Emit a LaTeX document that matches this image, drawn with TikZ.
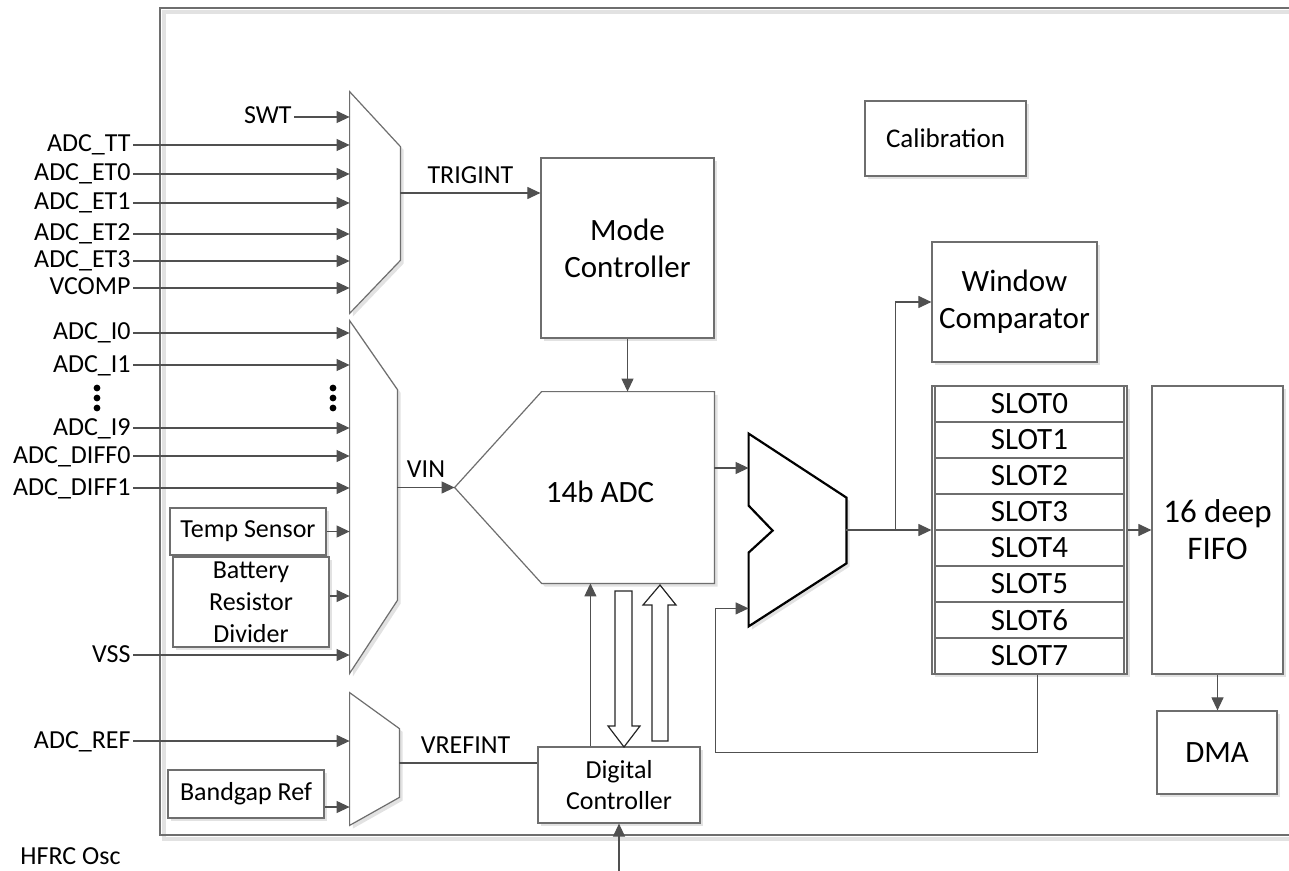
\documentclass[tikz,border=0pt]{standalone}
\usepackage{fontspec}
\setmainfont{Carlito}
\usetikzlibrary{arrows.meta, positioning, calc, shadows}

\definecolor{wirecol}{HTML}{505050}
\definecolor{edgecol}{HTML}{6E6E6E}
\definecolor{shadecol}{HTML}{E2E2E2}

\tikzset{
    every node/.style={font=\fontsize{13}{16}\selectfont, inner sep=1pt},
    wire/.style={draw=wirecol, line width=0.55pt},
    sig/.style={wire, ->},
    boxshadow/.style={drop shadow={shadow xshift=1.6pt, shadow yshift=-1.6pt, fill=shadecol, opacity=1}},
    blk/.style={draw=edgecol, line width=0.6pt, fill=white, boxshadow, align=center, inner sep=0pt},
    bigtxt/.style={font=\fontsize{15.5}{18.5}\selectfont},
    midtxt/.style={font=\fontsize{15.5}{18}\selectfont},
    inlbl/.style={anchor=east, text height=8.5pt, text depth=1.5pt},
    muxbox/.style={inner sep=0pt},
    slotbox/.style={draw=edgecol, line width=0.6pt, minimum width=94.5pt, minimum height=18pt, inner sep=0pt, midtxt},
    hollow/.style={draw=black!85, line width=0.6pt, fill=white},
}

\begin{document}
\begin{tikzpicture}[x=0.5pt, y=-0.5pt, >={Triangle[length=6.5pt, width=6pt]}]
    \useasboundingbox (0,0) rectangle (1289,871);
    % Outer frame
    \draw[shadecol, line width=1.6pt] (1289,12) -- (164,12) -- (164,839) -- (1289,839);
    \draw[edgecol, line width=0.8pt] (1289,8) -- (160,8) -- (160,835) -- (1289,835);

    % Trigger multiplexer
    \node[muxbox, minimum width=25pt, minimum height=110.5pt] (tmux) at (375,202.5) {};
    \draw[blk] (tmux.north west) -- ($(tmux.north east)+(0,55)$) -- ($(tmux.south east)+(0,-53)$) -- (tmux.south west) -- cycle;
    \node[inlbl] (swt) at (294,117) {SWT};
    \draw[sig] (swt.east) -- (swt.east -| tmux.west);
    \foreach \nm/\yy [count=\k] in {ADC\_TT/145, ADC\_ET0/174, ADC\_ET1/203, ADC\_ET2/234, ADC\_ET3/261, VCOMP/288} {
        \node[inlbl] (trg\k) at (133,\yy) {\nm};
        \draw[sig] (trg\k.east) -- (trg\k.east -| tmux.west);
    }

    % Analog input multiplexer
    \node[muxbox, minimum width=23.5pt, minimum height=176pt] (vmux) at (373.5,497) {};
    \draw[blk] (vmux.north west) -- ($(vmux.north east)+(0,69)$) -- ($(vmux.south east)+(0,-73)$) -- (vmux.south west) -- cycle;
    \foreach \nm/\yy [count=\k] in {ADC\_I0/333, ADC\_I1/365, ADC\_I9/428, ADC\_DIFF0/456, ADC\_DIFF1/488, VSS/655} {
        \node[inlbl] (ain\k) at (133,\yy) {\nm};
        \draw[sig] (ain\k.east) -- (ain\k.east -| vmux.west);
    }
    \foreach \yy in {388,398,408} {
        \fill (97,\yy) circle (1.7pt);
        \fill (333,\yy) circle (1.7pt);
    }
    \node[blk, minimum width=78pt, minimum height=23.5pt] (temp) at (248,531.5) {Temp Sensor};
    \node[blk, minimum width=78pt, minimum height=45pt] (batt) at (251,602) {Battery\\Resistor\\Divider};
    \draw[sig] (temp.east) -- (temp.east -| vmux.west);
    \draw[sig] ([yshift=3pt]batt.east) -- ([yshift=3pt]batt.east -| vmux.west);

    % Reference multiplexer
    \node[muxbox, minimum width=24.5pt, minimum height=66pt] (refmux) at (374.5,759) {};
    \draw[blk] (refmux.north west) -- ($(refmux.north east)+(0,36)$) -- ($(refmux.south east)+(0,-28)$) -- (refmux.south west) -- cycle;
    \node[inlbl] (aref) at (133,741) {ADC\_REF};
    \draw[sig] (aref.east) -- (aref.east -| refmux.west);
    \node[blk, minimum width=78pt, minimum height=24pt] (bgap) at (246,794) {Bandgap Ref};
    \coordinate (bgout) at ($(bgap.east)+(0,13)$);
    \draw[sig] (bgout) -- (bgout -| refmux.west);
    \node[anchor=west] (hfrc) at (18,856) {HFRC Osc};

    % Converter and control
    \node[muxbox, minimum width=129.5pt, minimum height=95.5pt] (adc) at (584.5,487.5) {};
    \draw[blk] (adc.west) -- ($(adc.north west)+(87,0)$) -- (adc.north east) -- (adc.south east) -- ($(adc.south west)+(87,0)$) -- cycle;
    \node[bigtxt] (adctxt) at (600,492) {14b ADC};
    \draw[sig] (vmux.east |- adc.west) -- (adc.west) node[pos=0.5, above=2pt, text depth=1.5pt] (vin) {VIN};

    \node[blk, bigtxt, minimum width=86.5pt, minimum height=90pt] (mode) at (627.5,248) {Mode\\Controller};
    \coordinate (trig) at ($(tmux.east)+(0,-9.5)$);
    \draw[sig] (trig) -- (trig -| mode.west) node[midway, above=2pt, text depth=1.5pt] (trigint) {TRIGINT};
    \draw[sig] (mode.south) -- (mode.south |- adc.north);

    \node[blk, minimum width=81pt, minimum height=38pt, font=\fontsize{13}{15.5}\selectfont] (dig) at (619,785) {Digital\\Controller};
    \coordinate (vref) at ($(refmux.east)+(0,4)$);
    \draw[wire] (vref) -- (vref -| dig.west) node[pos=0.48, above=2pt, text depth=1.5pt] (vrefint) {VREFINT};
    \coordinate (dup) at ($(dig.north west)+(53,0)$);
    \draw[sig] (dup) -- (dup |- adc.south);
    \coordinate (clkin) at ($(dig.south)+(0,48)$);
    \draw[sig] (clkin) -- (dig.south);
    % Data bus arrows
    \draw[hollow] (615,591) -- (632,591) -- (632,726) -- (640,726) -- (624,747) -- (608,726) -- (615,726) -- cycle;
    \draw[hollow] (652,741) -- (668,741) -- (668,605) -- (676,605) -- (660,585) -- (643,605) -- (652,605) -- cycle;

    % Result multiplexer
    \node[muxbox, minimum width=48.5pt, minimum height=96pt] (omux) at (797.5,530) {};
    \draw[black, line width=1.1pt, fill=white, boxshadow] (omux.north west) -- ++(0,72) -- ++(24,25) -- ++(-24,22) -- (omux.south west) -- ($(omux.south east)+(0,-63)$) -- ($(omux.north east)+(0,64)$) -- cycle;
    \coordinate (adcout) at ($(adc.east)+(0,-19.5)$);
    \draw[sig] (adcout) -- (adcout -| omux.west);

    % Slots, FIFO and outputs
    \node[draw=edgecol, line width=0.6pt, fill=white, boxshadow, minimum width=97.5pt, minimum height=144pt] (slots) at (1029.5,530) {};
    \foreach \i in {0,...,7}
        \node[slotbox] (slot\i) at (1029.5,404+36*\i) {SLOT\i};
    \node[blk, font=\fontsize{16.5}{18.5}\selectfont, minimum width=65.5pt, minimum height=144pt] (fifo) at (1217.5,530) {16 deep\\FIFO};
    \node[blk, bigtxt, minimum width=82.5pt, minimum height=60pt] (wcomp) at (1014.5,302) {Window\\Comparator};
    \node[blk, minimum width=80.5pt, minimum height=37.5pt, font=\fontsize{13.5}{16}\selectfont] (calib) at (945.5,138.5) {Calibration};
    \node[blk, bigtxt, minimum width=60pt, minimum height=41.5pt] (dma) at (1217,752.5) {DMA};

    \coordinate (split) at ($(omux.east)!0.58!(slots.west)$);
    \draw[sig] (omux.east) -- (slots.west);
    \draw[sig] (split) |- (wcomp.west);
    \draw[sig] (slots.east) -- (fifo.west);
    \draw[sig] (fifo.south) -- (fifo.south |- dma.north);

    % Feedback from slot stack
    \coordinate (fb) at ($(slots.south)+(8,0)$);
    \coordinate (fbin) at ($(omux.south west)+(0,-18)$);
    \draw[sig] (fb) -- ++(0,78) -| ($(fbin)+(-33,0)$) -- (fbin);
\end{tikzpicture}
\end{document}
